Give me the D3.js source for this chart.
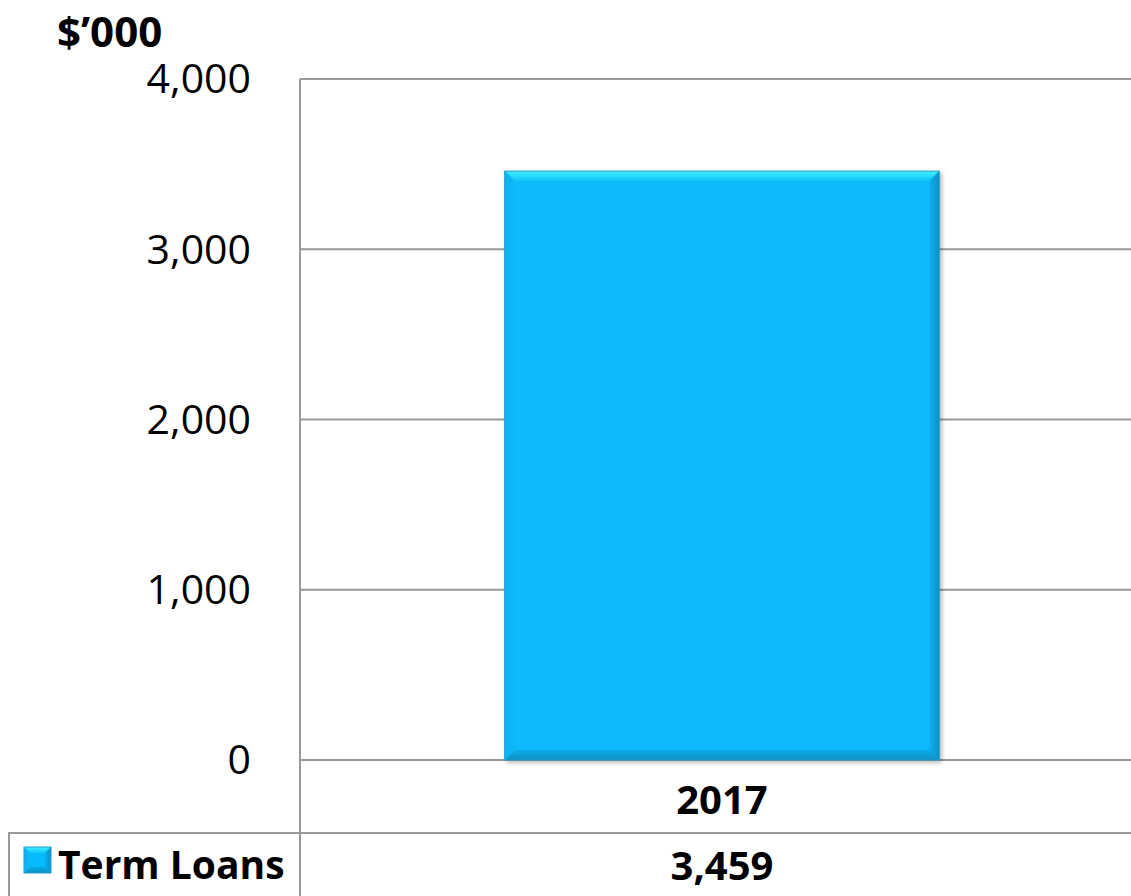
<!DOCTYPE html>
<html>
<head>
<meta charset="utf-8">
<script src="https://cdn.jsdelivr.net/npm/d3@7"></script>
<style>
  html, body { margin: 0; padding: 0; background: #fff; }
  svg { display: block; font-family: "Open Sans", "Noto Sans", sans-serif; }
</style>
</head>
<body>
<svg id="chart" width="1131" height="896"></svg>
<script>
// chart data
const categories = ["2017"];
const seriesName = "Term Loans";
const termLoans = [3459];
const yTicks = [0, 1000, 2000, 3000, 4000];
const unitLabel = "$\u2019000";

const width = 1131;
const height = 896;
const margin = { top: 79, right: -13, bottom: 136, left: 300 };
const tableRow = 73;

const svg = d3.select("#chart");
const gridColor = "#999";

const x = d3
  .scaleBand()
  .domain(categories)
  .range([margin.left, width - margin.right])
  .paddingInner(0.48)
  .paddingOuter(0.245);

const y = d3
  .scaleLinear()
  .domain([0, 4000])
  .range([height - margin.bottom, margin.top]);

const fmt = d3.format(",");

// defs for bar shading
const defs = svg.append("defs");
const shadow = defs.append("filter").attr("id", "shadow").attr("x", "-5%").attr("y", "-5%").attr("width", "115%").attr("height", "115%");
shadow.append("feGaussianBlur").attr("in", "SourceAlpha").attr("stdDeviation", 2);
shadow.append("feOffset").attr("dx", 1.5).attr("dy", 1.5).attr("result", "b");
shadow.append("feComponentTransfer").append("feFuncA").attr("type", "linear").attr("slope", 0.3);
const merge = shadow.append("feMerge");
merge.append("feMergeNode");
merge.append("feMergeNode").attr("in", "SourceGraphic");

function grad(id, x2, y2, c1, c2) {
  const g = defs.append("linearGradient").attr("id", id).attr("x1", 0).attr("y1", 0).attr("x2", x2).attr("y2", y2);
  g.append("stop").attr("offset", 0).attr("stop-color", c1);
  g.append("stop").attr("offset", 1).attr("stop-color", c2);
}
grad("gTop", 0, 1, "#3FF0FF", "#12C4FB");
grad("gRight", 1, 0, "#07B0F0", "#0790C4");
grad("gBottom", 0, 1, "#07ACEA", "#0890C0");
grad("gLeft", 1, 0, "#09B4F2", "#10B8F5");

// gridlines
svg
  .append("g")
  .selectAll("line")
  .data(yTicks)
  .join("line")
  .attr("x1", margin.left)
  .attr("x2", width)
  .attr("y1", (d) => y(d))
  .attr("y2", (d) => y(d))
  .attr("stroke", gridColor)
  .attr("stroke-width", 2);

// y axis labels
svg
  .append("g")
  .selectAll("text")
  .data(yTicks)
  .join("text")
  .attr("x", 251)
  .attr("y", (d) => y(d))
  .attr("dy", "0.35em")
  .attr("text-anchor", "end")
  .attr("font-size", 41)
  .attr("fill", "#000")
  .text((d) => fmt(d));

svg
  .append("text")
  .attr("x", 57)
  .attr("y", 47)
  .attr("font-size", 42)
  .attr("font-weight", "bold")
  .text(unitLabel);

// bevelled bar
function bevel(g, x0, y0, w, h, b) {
  const x1 = x0 + w, y1 = y0 + h;
  g.append("rect").attr("x", x0).attr("y", y0).attr("width", w).attr("height", h).attr("fill", "#07BAFB");
  g.append("polygon").attr("points", [[x0, y0], [x1, y0], [x1 - b, y0 + b], [x0 + b, y0 + b]].join(" ")).attr("fill", "url(#gTop)");
  g.append("polygon").attr("points", [[x1, y0], [x1, y1], [x1 - b, y1 - b], [x1 - b, y0 + b]].join(" ")).attr("fill", "url(#gRight)");
  g.append("polygon").attr("points", [[x0, y1], [x1, y1], [x1 - b, y1 - b], [x0 + b, y1 - b]].join(" ")).attr("fill", "url(#gBottom)");
  g.append("polygon").attr("points", [[x0, y0], [x0 + b, y0 + b], [x0 + b, y1 - b], [x0, y1]].join(" ")).attr("fill", "url(#gLeft)");
  g.append("rect").attr("x", x0).attr("y", y0).attr("width", w).attr("height", h).attr("fill", "none").attr("stroke", "#2A9CC8").attr("stroke-width", 1);
}

categories.forEach((c, i) => {
  const g = svg.append("g").attr("filter", "url(#shadow)");
  bevel(g, x(c), y(termLoans[i]), x.bandwidth(), y(0) - y(termLoans[i]), 10);
});

// data table
const tableTop = y(0) + tableRow;
svg.append("line").attr("x1", margin.left).attr("x2", margin.left).attr("y1", margin.top).attr("y2", height).attr("stroke", gridColor).attr("stroke-width", 2);
svg.append("line").attr("x1", 8).attr("x2", width).attr("y1", tableTop).attr("y2", tableTop).attr("stroke", gridColor).attr("stroke-width", 2);
svg.append("line").attr("x1", 9).attr("x2", 9).attr("y1", tableTop).attr("y2", height).attr("stroke", gridColor).attr("stroke-width", 2);

svg
  .append("g")
  .selectAll("text")
  .data(categories)
  .join("text")
  .attr("x", (d) => x(d) + x.bandwidth() / 2)
  .attr("y", y(0) + tableRow / 2 + 3)
  .attr("dy", "0.35em")
  .attr("text-anchor", "middle")
  .attr("font-size", 40)
  .attr("font-weight", "bold")
  .text((d) => d);

svg
  .append("g")
  .selectAll("text")
  .data(termLoans)
  .join("text")
  .attr("x", (d, i) => x(categories[i]) + x.bandwidth() / 2)
  .attr("y", tableTop + tableRow / 2 - 4)
  .attr("dy", "0.35em")
  .attr("text-anchor", "middle")
  .attr("font-size", 40)
  .attr("font-weight", "bold")
  .text((d) => fmt(d));

// legend key
const key = svg.append("g");
bevel(key, 24, tableTop + 14, 27, 26, 6);
svg
  .append("text")
  .attr("x", 58)
  .attr("y", tableTop + tableRow / 2 - 4)
  .attr("dy", "0.35em")
  .attr("font-size", 39)
  .attr("font-weight", "bold")
  .text(seriesName);
</script>
</body>
</html>
